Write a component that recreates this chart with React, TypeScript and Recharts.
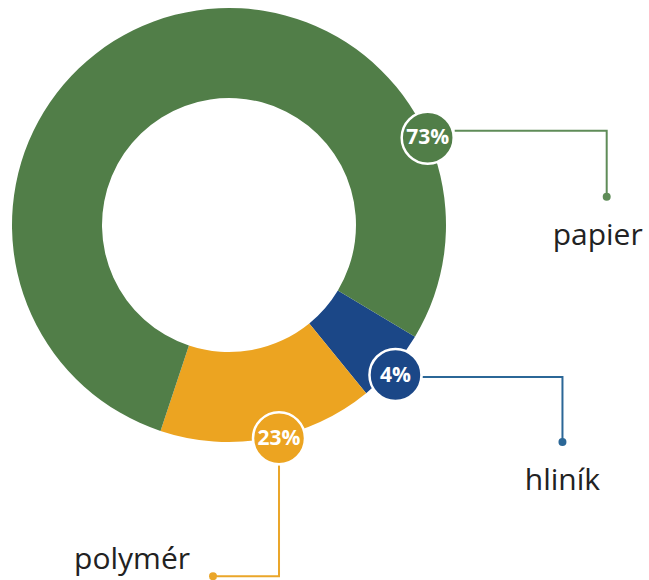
import { Pie, PieChart, Cell } from "recharts";

// slice shares as drawn (clockwise from the blue slice), and the printed labels
const categories = ["hliník", "polymér", "papier"];
const shares = [5.5, 16, 78.5];
const percentLabels = ["4%", "23%", "73%"];

const COLORS = ["#1b4787", "#eca421", "#517e48"];
const LINE_COLORS = ["#2b6797", "#eaa62a", "#5f8c58"];

const data = categories.map((name, i) => ({ name, value: shares[i] }));

const CX = 229;
const CY = 225;
const OUTER = 217;
const INNER = 127;
const RAD = Math.PI / 180;

// where each badge sits on the ring, and how its leader line runs
const badgeLayout: Record<
  string,
  {
    angle: number;
    r: number;
    lineDy: number;
    run: number;
    drop: number;
    vertical?: boolean;
    textY: number;
    textDx: number;
    anchor: "middle" | "end";
  }
> = {
  papier: { angle: 23.7, r: 217, lineDy: -7, run: 179, drop: 59, textY: 245, textDx: -9, anchor: "middle" },
  "hliník": { angle: -42, r: 224, lineDy: 2, run: 167, drop: 67, textY: 490, textDx: 0, anchor: "middle" },
  "polymér": { angle: -76.8, r: 219, lineDy: 0, run: -66, drop: 138, vertical: true, textY: 569, textDx: -23, anchor: "end" },
};

function Badge(props: any) {
  const { index, cx, cy } = props;
  const name = categories[index];
  const lay = badgeLayout[name];
  const bx = cx + lay.r * Math.cos(lay.angle * RAD);
  const by = cy - lay.r * Math.sin(lay.angle * RAD);
  const color = COLORS[index];
  const lc = LINE_COLORS[index];
  let path = "";
  let dot = { x: 0, y: 0 };
  if (lay.vertical) {
    const endY = by + lay.drop;
    path = `M${bx},${by + 27} L${bx},${endY} L${bx + lay.run},${endY}`;
    dot = { x: bx + lay.run, y: endY };
  } else {
    const ly = by + lay.lineDy;
    const ex = bx + lay.run;
    path = `M${bx + 27},${ly} L${ex},${ly} L${ex},${by + lay.drop}`;
    dot = { x: ex, y: by + lay.drop };
  }
  const textX = dot.x + lay.textDx;
  return (
    <g>
      <path d={path} fill="none" stroke={lc} strokeWidth={2} />
      <circle cx={dot.x} cy={dot.y} r={4} fill={lc} />
      <circle cx={bx} cy={by} r={26} fill={color} stroke="#ffffff" strokeWidth={2.5} />
      <text
        x={bx}
        y={by + 1}
        textAnchor="middle"
        dominantBaseline="middle"
        fill="#ffffff"
        fontSize={21}
        fontWeight={700}
        fontFamily="'Open Sans', sans-serif"
      >
        {percentLabels[index]}
      </text>
      <text
        x={textX}
        y={lay.textY}
        textAnchor={lay.anchor}
        fill="#222222"
        fontSize={30}
        fontFamily="'Open Sans', sans-serif"
      >
        {name}
      </text>
    </g>
  );
}

export default function App() {
  return (
    <div style={{ position: "absolute", left: 0, top: 0, width: 649, height: 580, background: "#ffffff" }}>
      <PieChart width={649} height={580} margin={{ top: 0, right: 0, bottom: 0, left: 0 }}>
        <Pie
          data={data}
          dataKey="value"
          nameKey="name"
          cx={CX}
          cy={CY}
          innerRadius={INNER}
          outerRadius={OUTER}
          startAngle={-31}
          endAngle={-391}
          stroke="none"
          labelLine={false}
          label={Badge}
          isAnimationActive={false}
        >
          {data.map((d, i) => (
            <Cell key={d.name} fill={COLORS[i]} />
          ))}
        </Pie>
      </PieChart>
    </div>
  );
}
